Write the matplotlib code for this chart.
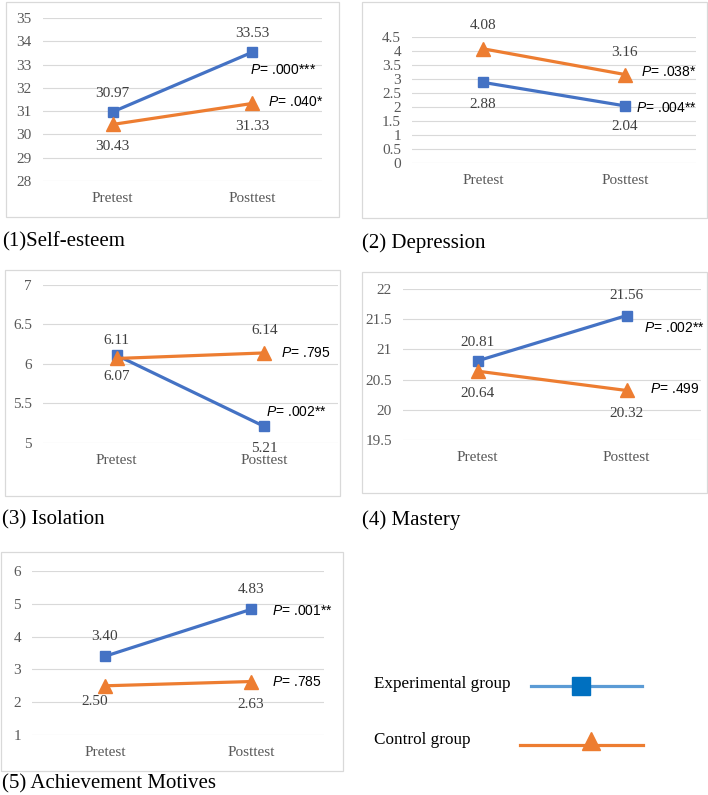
import matplotlib

matplotlib.use("Agg")
import numpy as np
from matplotlib import pyplot as plt
from matplotlib.lines import Line2D
from matplotlib.patches import Rectangle

# data
categories = ["Pretest", "Posttest"]

selfesteem_exp = [30.97, 33.53]
selfesteem_ctl = [30.43, 31.33]
selfesteem_p = [".000***", ".040*"]

depression_exp = [2.88, 2.04]
depression_ctl = [4.08, 3.16]
depression_p = [".004**", ".038*"]

isolation_exp = [6.11, 5.21]
isolation_ctl = [6.07, 6.14]
isolation_p = [".002**", ".795"]

mastery_exp = [20.81, 21.56]
mastery_ctl = [20.64, 20.32]
mastery_p = [".002**", ".499"]

achievement_exp = [3.40, 4.83]
achievement_ctl = [2.50, 2.63]
achievement_p = [".001**", ".785"]

W, H = 708, 795
BLUE = "#4472C4"
ORANGE = "#ED7D31"
GRID = "#D9D9D9"
TICK = "#595959"
LABEL = "#404040"
SERIF = "Liberation Serif"

plt.rcParams["mathtext.fontset"] = "custom"
plt.rcParams["mathtext.rm"] = "Liberation Sans"
plt.rcParams["mathtext.it"] = "Liberation Sans:italic"

fig = plt.figure(figsize=(W / 100, H / 100), dpi=100)


def px_rect(x0, y_top, x1, y_bot):
    return [x0 / W, 1 - y_bot / H, (x1 - x0) / W, (y_bot - y_top) / H]


def draw_panel(box, area, ylim, ystep, exp, ctl, pvals, offs, caption, cap_pos):
    # outer frame
    bx0, by0, bx1, by1 = box
    fig.add_artist(Rectangle((bx0 / W, 1 - by1 / H), (bx1 - bx0) / W, (by1 - by0) / H,
                             transform=fig.transFigure, fill=False, ec=GRID, lw=0.9))
    ax = fig.add_axes(px_rect(*area))
    x = np.arange(len(categories))
    ax.plot(x, exp, color=BLUE, lw=2.3, marker="s", ms=6.5, zorder=3)
    ax.plot(x, ctl, color=ORANGE, lw=2.3, marker="^", ms=10, zorder=4)
    ax.set_xlim(-0.5, 1.5)
    ax.set_ylim(*ylim)
    ticks = np.arange(ylim[0], ylim[1] + ystep / 2, ystep)
    ax.set_yticks(ticks)
    ax.set_yticklabels([f"{t:g}" for t in ticks])
    ax.set_xticks(x)
    ax.set_xticklabels(categories)
    for s in ax.spines.values():
        s.set_visible(False)
    ax.tick_params(length=0, colors=TICK, labelsize=11)
    ax.tick_params(axis="y", pad=8)
    ax.tick_params(axis="x", pad=8)
    for lab in ax.get_xticklabels() + ax.get_yticklabels():
        lab.set_fontfamily(SERIF)
    ax.yaxis.grid(True, color=GRID, lw=0.8)
    ax.set_axisbelow(True)
    ax.patch.set_visible(False)

    # data labels
    for series, o in ((exp, offs[0]), (ctl, offs[1])):
        for i, v in enumerate(series):
            ax.annotate(f"{v:.2f}", (x[i], v), xytext=o[i], textcoords="offset pixels",
                        ha="center", va="center", fontsize=11, color=LABEL,
                        fontfamily=SERIF, annotation_clip=False)
    # p values
    for series, p, o in ((exp, pvals[0], offs[2]), (ctl, pvals[1], offs[3])):
        ax.annotate(r"$\it{P}$= " + p, (x[1], series[1]), xytext=o, textcoords="offset pixels",
                    ha="left", va="center", fontsize=10, color="black",
                    fontfamily="Liberation Sans", annotation_clip=False)

    fig.text(cap_pos[0] / W, 1 - cap_pos[1] / H, caption, fontsize=15,
             fontfamily=SERIF, color="black", ha="left", va="center")


# offsets: exp labels, ctl labels, exp P, ctl P  (pixels)
draw_panel((6, 2, 339, 217), (43, 18, 322, 181), (28, 35), 1,
           selfesteem_exp, selfesteem_ctl, selfesteem_p,
           [[(0, 18), (0, 19)], [(0, -22), (0, -23)], (-2, -18), (16, 1)],
           "(1)Self-esteem", (2, 242))

draw_panel((362, 2, 707, 218), (412, 37, 696, 163), (0, 4.5), 0.5,
           depression_exp, depression_ctl, depression_p,
           [[(0, -22), (0, -21)], [(0, 23), (0, 22)], (11, -2), (16, 3)],
           "(2) Depression", (362, 243))

draw_panel((5, 270, 340, 496), (43, 285, 338, 443), (5, 7), 0.5,
           isolation_exp, isolation_ctl, isolation_p,
           [[(0, 15), (0, -22)], [(0, -18), (0, 22)], (2, 14), (17, 0)],
           "(3) Isolation", (2, 520))

draw_panel((362, 272, 707, 493), (403, 289, 701, 440), (19.5, 22), 0.5,
           mastery_exp, mastery_ctl, mastery_p,
           [[(0, 18), (0, 20)], [(0, -22), (0, -23)], (18, -12), (23, 1)],
           "(4) Mastery", (362, 520))

draw_panel((1, 552, 343, 771), (32, 571, 324, 735), (1, 6), 1,
           achievement_exp, achievement_ctl, achievement_p,
           [[(0, 20), (0, 20)], [(-10, -16), (0, -23)], (21, -2), (21, 0)],
           "(5) Achievement Motives", (2, 784))

# legend
fig.text(374 / W, 1 - 684 / H, "Experimental group", fontsize=12.3, fontfamily=SERIF,
         ha="left", va="center")
fig.text(374 / W, 1 - 740 / H, "Control group", fontsize=12.3, fontfamily=SERIF,
         ha="left", va="center")
fig.add_artist(Line2D([531 / W, 642 / W], [1 - 686 / H] * 2, transform=fig.transFigure,
                      color="#5B9BD5", lw=2.3))
fig.add_artist(Line2D([581 / W], [1 - 686 / H], transform=fig.transFigure,
                      marker="s", ms=12.5, color="#0070C0", lw=0))
fig.add_artist(Line2D([520 / W, 643 / W], [1 - 745 / H] * 2, transform=fig.transFigure,
                      color=ORANGE, lw=2.3))
fig.add_artist(Line2D([591 / W], [1 - 741 / H], transform=fig.transFigure,
                      marker="^", ms=13.5, color=ORANGE, lw=0))

fig.savefig("out.png", dpi=100)
